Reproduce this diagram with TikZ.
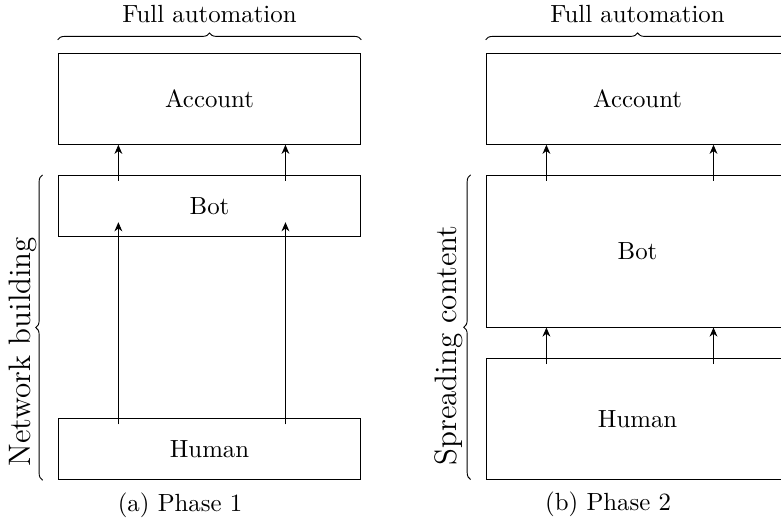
\documentclass[tikz,border=0pt]{standalone}
\usepackage{tikz}
\usetikzlibrary{positioning,calc,arrows.meta,decorations.pathreplacing}

\begin{document}
\begin{tikzpicture}[
    font=\fontsize{10.8}{13}\selectfont,
    node distance=0.46cm,
    box/.style={draw, minimum width=4.63cm, inner sep=0pt},
    arrow/.style={-{Stealth[length=1.4mm, width=1.2mm]}},
    brace/.style={decorate, decoration={brace, amplitude=3pt}},
    sidetext/.style={rotate=90, anchor=base, font=\fontsize{13.5}{16}\selectfont}]
\clip (0,0) rectangle (11.94,-7.936);
\node[box, minimum height=1.39cm] (acc1) at (3.203,-1.511) {Account};
\node[box, minimum height=0.93cm, below=0.46cm of acc1] (bot1) {Bot};
\node[box, minimum height=0.93cm, below=2.78cm of bot1] (hum1) {Human};
\node[box, minimum height=1.39cm, right=1.9cm of acc1] (acc2) {Account};
\node[box, minimum height=2.32cm, below=0.46cm of acc2] (bot2) {Bot};
\node[box, minimum height=1.84cm, below=0.47cm of bot2] (hum2) {Human};
\draw[arrow] ($(bot1.north west)!.2!(bot1.north east)+(0,-0.09)$) -- ($(acc1.south west)!.2!(acc1.south east)$);
\draw[arrow] ($(bot1.north west)!.75!(bot1.north east)+(0,-0.09)$) -- ($(acc1.south west)!.75!(acc1.south east)$);
\draw[arrow] ($(hum1.north west)!.2!(hum1.north east)+(0,-0.09)$) -- ($(bot1.south west)!.2!(bot1.south east)+(0,0.22)$);
\draw[arrow] ($(hum1.north west)!.75!(hum1.north east)+(0,-0.09)$) -- ($(bot1.south west)!.75!(bot1.south east)+(0,0.22)$);
\draw[arrow] ($(bot2.north west)!.2!(bot2.north east)+(0,-0.09)$) -- ($(acc2.south west)!.2!(acc2.south east)$);
\draw[arrow] ($(bot2.north west)!.75!(bot2.north east)+(0,-0.09)$) -- ($(acc2.south west)!.75!(acc2.south east)$);
\draw[arrow] ($(hum2.north west)!.2!(hum2.north east)+(0,-0.09)$) -- ($(bot2.south west)!.2!(bot2.south east)$);
\draw[arrow] ($(hum2.north west)!.75!(hum2.north east)+(0,-0.09)$) -- ($(bot2.south west)!.75!(bot2.south east)$);
\draw[brace] ([yshift=0.2cm]acc1.north west) -- node[above=0.14cm] (auto1) {Full automation} ([yshift=0.2cm]acc1.north east);
\draw[brace] ([yshift=0.2cm]acc2.north west) -- node[above=0.14cm] (auto2) {Full automation} ([yshift=0.2cm]acc2.north east);
\draw[brace] ([xshift=-0.23cm]hum1.south west) -- ([xshift=-0.23cm]bot1.north west);
\draw[brace] ([xshift=-0.23cm]hum2.south west) -- ([xshift=-0.23cm]bot2.north west);
\node[sidetext] (netlbl) at ($(bot1.north west)!.58!(hum1.south west)+(-0.41,0)$) {Network building};
\node[sidetext] (spreadlbl) at ($(bot2.north west)!.56!(hum2.south west)+(-0.45,0)$) {Spreading content};
\node[below=0.07cm of hum1, xshift=-0.45cm] (capa) {(a) Phase 1};
\node[below=0.07cm of hum2, xshift=-0.45cm] (capb) {(b) Phase 2};
\end{tikzpicture}
\end{document}
